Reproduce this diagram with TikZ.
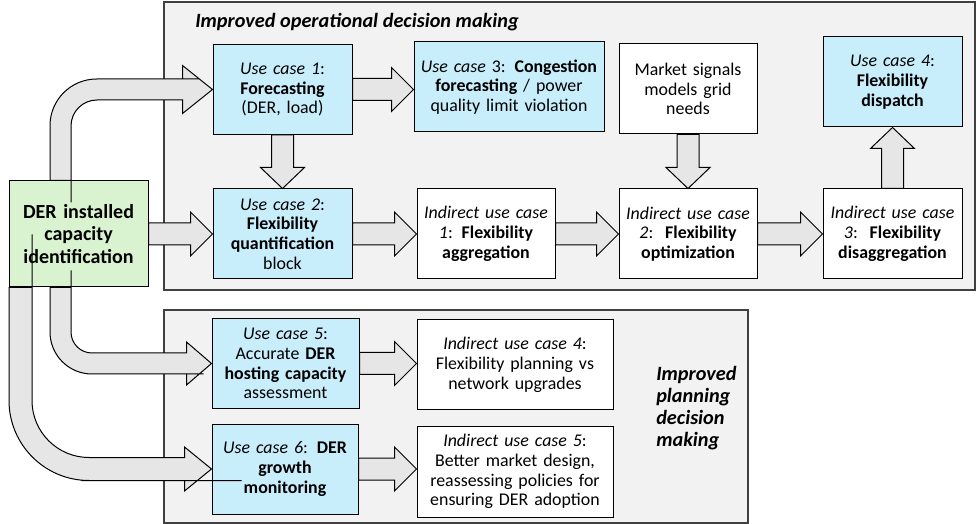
\documentclass[tikz,border=0pt]{standalone}
\usepackage{fontspec}
\setmainfont{Carlito}
\usetikzlibrary{calc,backgrounds}

\definecolor{ucblue}{HTML}{C8EDFB}
\definecolor{dergreen}{HTML}{D9F2D0}
\definecolor{panelgray}{HTML}{F2F2F2}
\definecolor{arrowgray}{HTML}{E6E6E6}
\definecolor{panelline}{HTML}{404040}

\tikzset{
  basebox/.style={draw=black, line width=0.75pt, align=center, minimum height=67.5pt,
    inner xsep=2pt, inner ysep=2pt, font=\fontsize{13.4}{14.8}\selectfont},
  ucbox/.style={basebox, fill=ucblue, text width=#1},
  indbox/.style={basebox, fill=white, text width=#1},
  blockarrow/.style={draw=black, line width=0.75pt, fill=arrowgray, line join=miter},
  panel/.style={draw=panelline, line width=1.1pt, fill=panelgray},
  paneltitle/.style={font=\fontsize{15.2}{16.5}\selectfont\bfseries\itshape, inner sep=0pt}
}

% straight block arrows, tip sits on the target box
\newcommand{\rightblock}[2]{%
  \draw[blockarrow] ($(#1.east)+(0,-11)$) -- ($(#1.east -| #2.west)+(-22,-11)$) -- ++(0,-11)
    -- (#1.east -| #2.west) -- ++(-22,22) -- ++(0,-11) -- ($(#1.east)+(0,11)$) -- cycle;}
\newcommand{\downblock}[2]{%
  \draw[blockarrow] ($(#1.south)+(-11,0)$) -- ($(#1.south |- #2.north)+(-11,-21)$) -- ++(-11,0)
    -- (#1.south |- #2.north) -- ++(22,-21) -- ++(-11,0) -- ($(#1.south)+(11,0)$) -- cycle;}
\newcommand{\upblock}[2]{%
  \draw[blockarrow] ($(#1.north)+(-11,0)$) -- ($(#1.north |- #2.south)+(-11,21)$) -- ++(-11,0)
    -- (#1.north |- #2.south) -- ++(22,21) -- ++(-11,0) -- ($(#1.north)+(11,0)$) -- cycle;}

\begin{document}
\begin{tikzpicture}[x=0.75pt, y=-0.75pt]
  \useasboundingbox (0,0) rectangle (976,524);

  % panels
  \draw[panel] (164,2) rectangle (975,290);
  \draw[panel] (164,310) rectangle (748,523);
  \node[paneltitle, anchor=west] (optitle) at (195,22) {Improved operational decision making};
  \node[paneltitle, anchor=west, align=left] (plantitle) at (656,408) {Improved\\planning\\decision\\making};

  % source box
  \node[basebox, fill=dergreen, text width=100.25pt, minimum height=79.5pt,
    font=\fontsize{15}{16.6}\selectfont\bfseries] (der) at (78.5,234)
    {DER installed\\capacity\\identification};

  % operational boxes
  \node[ucbox=100.25pt] (uc1) at (282.5,89.5) {\textit{Use case 1}:\\\textbf{Forecasting}\\(DER, load)};
  \node[ucbox=138.5pt] (uc3) at (509,87) {\textit{Use case} 3: \textbf{Congestion}\\\textbf{forecasting} / power\\quality limit violation};
  \node[indbox=99.5pt] (market) at (688,89) {Market signals\\models grid\\needs};
  \node[ucbox=100.25pt] (uc4) at (892.5,82) {\textit{Use case 4}:\\\textbf{Flexibility}\\\textbf{dispatch}};
  \node[ucbox=100.25pt] (uc2) at (282.5,234) {\textit{Use case 2}:\\\textbf{Flexibility}\\\textbf{quantification}\\block};
  \node[indbox=99.5pt] (ind1) at (486,234) {\textit{Indirect use case}\\\textit{1}: \textbf{Flexibility}\\\textbf{aggregation}};
  \node[indbox=99.5pt] (ind2) at (688,234) {\textit{Indirect use case}\\\textit{2}:~~\textbf{Flexibility}\\\textbf{optimization}};
  \node[indbox=100.25pt] (ind3) at (892.5,234) {\textit{Indirect use case}\\\textit{3}:~~\textbf{Flexibility}\\\textbf{disaggregation}};

  % planning boxes
  \node[ucbox=106.25pt] (uc5) at (285.5,363.5) {\textit{Use case 5}:\\Accurate \textbf{DER}\\\textbf{hosting capacity}\\assessment};
  \node[ucbox=105.5pt] (uc6) at (285,469) {\textit{Use case 6}: \textbf{DER}\\\textbf{growth}\\\textbf{monitoring}};
  \node[indbox=143pt] (ind4) at (515,365) {\textit{Indirect use case 4}:\\Flexibility planning vs\\network upgrades};
  \node[indbox=143pt, minimum height=68.25pt] (ind5) at (515,471.5) {\textit{Indirect use case 5}:\\Better market design,\\reassessing policies for\\ensuring DER adoption};

  % straight arrows
  \rightblock{der}{uc2}
  \rightblock{uc1}{uc3}
  \downblock{uc1}{uc2}
  \rightblock{uc2}{ind1}
  \rightblock{ind1}{ind2}
  \downblock{market}{ind2}
  \rightblock{ind2}{ind3}
  \upblock{ind3}{uc4}
  \rightblock{uc5}{ind4}
  \rightblock{uc6}{ind5}

  % bent arrows out of the source box
  \draw[blockarrow] ($(der.north)+(-28.5,-4)$) [rounded corners=35pt] |- ($(uc1.west)+(-60,-10.5)$)
    [sharp corners] -- ($(uc1.west)+(-30,-10.5)$) -- ++(0,-13.5) -- (uc1.west) -- ++(-30,24) -- ++(0,-13.5)
    -- ($(uc1.west)+(-60,10.5)$) [rounded corners=19.5pt] -| ($(der.north)+(-7.5,-4)$)
    [sharp corners] -- ($(der.north)+(-7.5,0)$) -- ($(der.north)+(-28.5,0)$) -- cycle;
  \draw[blockarrow] ($(der.south)+(-28.5,4)$) [rounded corners=31.5pt] |- ($(uc5.west)+(-50,10.5)$)
    [sharp corners] -- ($(uc5.west)+(-25,10.5)$) -- ++(0,11) -- (uc5.west) -- ++(-25,-21.5) -- ++(0,11)
    -- ($(uc5.west)+(-50,-10.5)$) [rounded corners=15.75pt] -| ($(der.south)+(-7.5,4)$)
    [sharp corners] -- ($(der.south)+(-7.5,0)$) -- ($(der.south)+(-28.5,0)$) -- cycle;
  \draw[blockarrow] ($(der.south)+(-69.5,4)$) [rounded corners=60pt] |- ($(uc6.west)+(-50,11.5)$)
    [sharp corners] -- ($(uc6.west)+(-27,11.5)$) -- ++(0,10.5) -- (uc6.west) -- ++(-27,-22) -- ++(0,10.5)
    -- ($(uc6.west)+(-50,-11.5)$) [rounded corners=42.75pt] -| ($(der.south)+(-46.5,4)$)
    [sharp corners] -- ($(der.south)+(-46.5,0)$) -- ($(der.south)+(-69.5,0)$) -- cycle;
\end{tikzpicture}
\end{document}
